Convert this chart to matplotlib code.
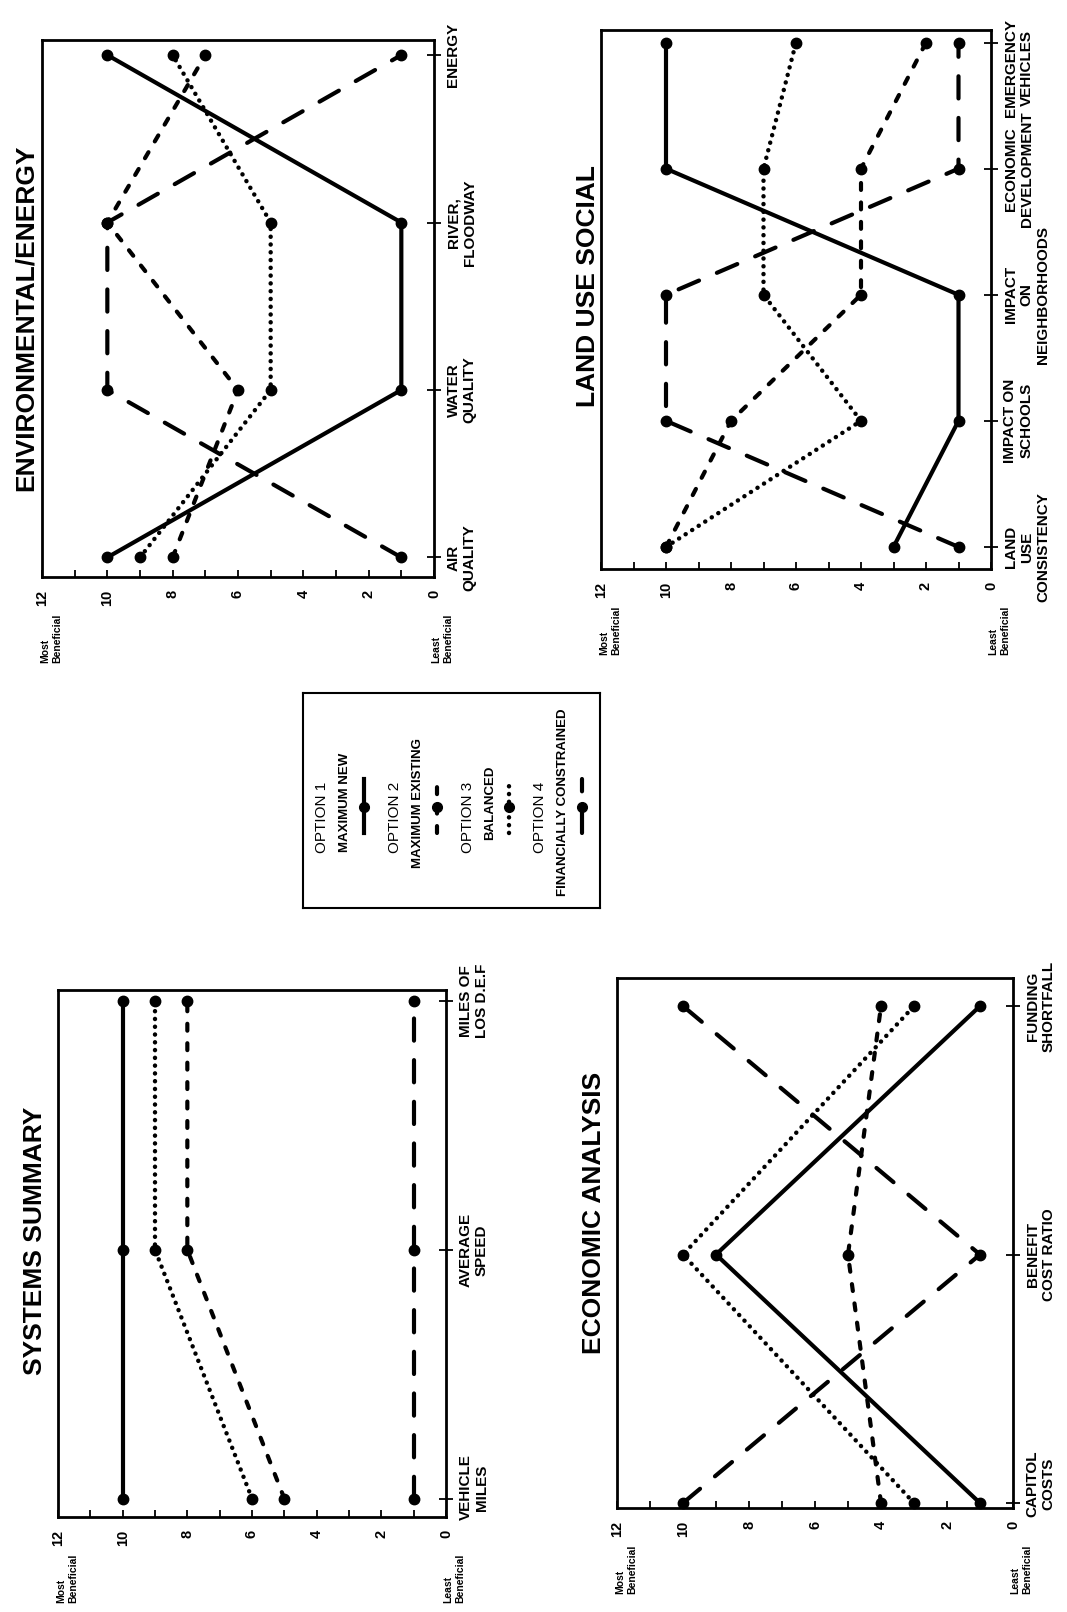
import matplotlib
matplotlib.use("Agg")
import matplotlib.pyplot as plt

W, H = 1067, 1612

plt.rcParams['font.family'] = ['Liberation Sans Narrow', 'Liberation Sans', 'DejaVu Sans']
plt.rcParams['lines.scale_dashes'] = False

# ---- data ----
option_names = ['OPTION 1', 'OPTION 2', 'OPTION 3', 'OPTION 4']
option_descr = ['MAXIMUM NEW', 'MAXIMUM EXISTING', 'BALANCED', 'FINANCIALLY CONSTRAINED']

env_categories = ['AIR\nQUALITY', 'WATER\nQUALITY', 'RIVER,\nFLOODWAY', 'ENERGY']
env_opt1 = [10, 1, 1, 10]
env_opt2 = [8, 6, 10, 7]
env_opt3 = [9, 5, 5, 8]
env_opt4 = [1, 10, 10, 1]

land_categories = ['LAND\nUSE\nCONSISTENCY', 'IMPACT ON\nSCHOOLS',
                   'IMPACT\nON\nNEIGHBORHOODS', 'ECONOMIC\nDEVELOPMENT',
                   'EMERGENCY\nVEHICLES']
land_opt1 = [3, 1, 1, 10, 10]
land_opt2 = [10, 8, 4, 4, 2]
land_opt3 = [10, 4, 7, 7, 6]
land_opt4 = [1, 10, 10, 1, 1]

sys_categories = ['VEHICLE\nMILES', 'AVERAGE\nSPEED', 'MILES OF\nLOS D.E.F']
sys_opt1 = [10, 10, 10]
sys_opt2 = [5, 8, 8]
sys_opt3 = [6, 9, 9]
sys_opt4 = [1, 1, 1]

econ_categories = ['CAPITOL\nCOSTS', 'BENEFIT\nCOST RATIO', 'FUNDING\nSHORTFALL']
econ_opt1 = [1, 9, 1]
econ_opt2 = [4, 5, 4]
econ_opt3 = [3, 10, 3]
econ_opt4 = [10, 1, 10]

value_ticks = [0, 2, 4, 6, 8, 10, 12]

# line style per option: solid, short dash, dotted, long dash
styles = [
    dict(linestyle='-', linewidth=3.0),
    dict(linestyle=(0, (5, 9)), linewidth=3.0, dash_capstyle='round'),
    dict(linestyle=(0, (0.1, 5.5)), linewidth=3.2, dash_capstyle='round'),
    dict(linestyle=(0, (16, 14)), linewidth=3.0, dash_capstyle='round'),
]

TICK_FONT = ['Liberation Sans', 'DejaVu Sans']


def px_axes(fig, x0, y0, x1, y1):
    """Add axes from a pixel box (top-left origin)."""
    return fig.add_axes([x0 / W, 1 - y1 / H, (x1 - x0) / W, (y1 - y0) / H])


def draw_panel(fig, box, title, title_xy, categories, series, margins, nudges):
    ax = px_axes(fig, *box)
    pos = list(range(len(categories)))

    for vals, st in zip(series, styles):
        ax.plot(vals, pos, color='black', marker='o', markersize=7.5,
                clip_on=False, zorder=3, **st)

    # page is turned a quarter: value runs right-to-left, categories bottom-to-top
    ax.set_xlim(12, 0)
    ax.set_ylim(-margins[0], len(categories) - 1 + margins[1])

    ax.set_xticks(value_ticks)
    ax.set_xticks(range(1, 12, 2), minor=True)
    ax.set_xticklabels([str(v) for v in value_ticks], rotation=90,
                       fontsize=10.5, fontweight='bold', family=TICK_FONT)
    ax.tick_params(axis='x', which='both', direction='in', length=5,
                   width=1.3, pad=9)

    ax.yaxis.tick_right()
    ax.set_yticks(pos)
    ax.set_yticklabels([])
    ax.tick_params(axis='y', direction='inout', length=10, width=1.3)

    for i, cat in enumerate(categories):
        ax.annotate(cat, xy=(1, i), xycoords=('axes fraction', 'data'),
                    xytext=(9, nudges.get(i, 0)), textcoords='offset points',
                    rotation=90, ha='left', va='center', multialignment='center',
                    fontsize=11, fontweight='bold')

    for s in ax.spines.values():
        s.set_linewidth(2)

    ax.annotate('Most\nBeneficial', xy=(12, 0), xycoords=('data', 'axes fraction'),
                xytext=(-1, -62), textcoords='offset points', rotation=90,
                ha='left', va='bottom', multialignment='left',
                fontsize=7.5, fontweight='bold', family=TICK_FONT)
    ax.annotate('Least\nBeneficial', xy=(0, 0), xycoords=('data', 'axes fraction'),
                xytext=(-2, -62), textcoords='offset points', rotation=90,
                ha='left', va='bottom', multialignment='left',
                fontsize=7.5, fontweight='bold', family=TICK_FONT)

    fig.text(title_xy[0] / W, 1 - title_xy[1] / H, title, rotation=90,
             ha='center', va='center', fontsize=19, fontweight='bold')
    return ax


fig = plt.figure(figsize=(W / 100, H / 100), dpi=100)
fig.patch.set_facecolor('white')

draw_panel(fig, (42, 40, 434, 577), 'ENVIRONMENTAL/ENERGY', (26, 318),
           env_categories, [env_opt1, env_opt2, env_opt3, env_opt4],
           (0.117, 0.09), {})

draw_panel(fig, (601, 30, 991, 569), 'LAND USE SOCIAL', (588, 286),
           land_categories, [land_opt1, land_opt2, land_opt3, land_opt4],
           (0.175, 0.10), {4: -18})

draw_panel(fig, (58, 990, 446, 1517), 'SYSTEMS SUMMARY', (35, 1241),
           sys_categories, [sys_opt1, sys_opt2, sys_opt3, sys_opt4],
           (0.074, 0.044), {0: 8})

draw_panel(fig, (617, 978, 1013, 1508), 'ECONOMIC ANALYSIS', (594, 1213),
           econ_categories, [econ_opt1, econ_opt2, econ_opt3, econ_opt4],
           (0.02, 0.113), {0: 14})

# ---- legend box (also turned a quarter) ----
lax = px_axes(fig, 303, 693, 600, 908)
lax.set_xlim(0, 1)
lax.set_ylim(0, 1)
lax.set_xticks([])
lax.set_yticks([])
for s in lax.spines.values():
    s.set_linewidth(1.5)

block = 0.245
for i in range(len(option_names)):
    x0 = i * block
    lax.text(x0 + 0.064, 0.42, option_names[i], rotation=90, ha='center',
             va='center', fontsize=11)
    lax.text(x0 + 0.141, 0.49, option_descr[i], rotation=90, ha='center',
             va='center', fontsize=9.5, fontweight='bold')
    lax.plot([x0 + 0.205] * 3, [0.35, 0.47, 0.60], color='black', marker='o',
             markevery=[1], markersize=7, **styles[i])

fig.savefig('out.png', dpi=100, facecolor='white')
